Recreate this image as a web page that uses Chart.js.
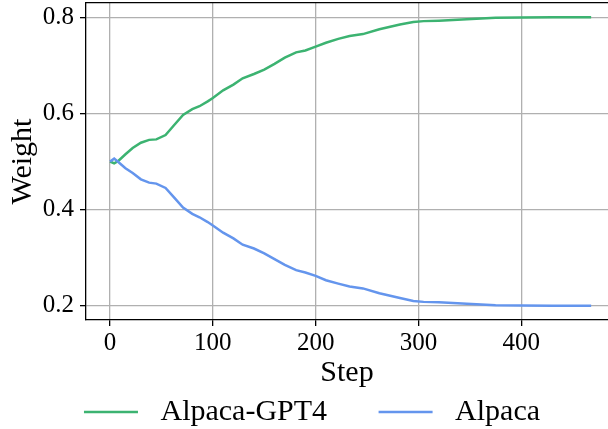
<!DOCTYPE html>
<html>
<head>
<meta charset="utf-8">
<script src="https://cdn.jsdelivr.net/npm/chart.js@4"></script>
<style>
  body { margin: 0; background: #fff; }
  #wrap { width: 608px; height: 429px; }
</style>
</head>
<body>
<div id="wrap"><canvas id="weight-chart" width="608" height="429"></canvas></div>
<script>
const steps = [0, 4, 8, 15, 22, 30, 38, 45, 54, 62, 71, 80, 87, 95, 100, 110, 120, 129, 140, 150,
               160, 170, 181, 190, 200, 210, 222, 233, 246, 262, 282, 295, 305, 320, 347, 375, 400, 430, 468]

const gpt4Weights = [0.500, 0.496, 0.501, 0.515, 0.528, 0.539, 0.545, 0.546, 0.555, 0.575, 0.597, 0.609, 0.615, 0.625, 0.632, 0.648, 0.660, 0.673, 0.682, 0.691,
                     0.703, 0.716, 0.727, 0.731, 0.739, 0.747, 0.755, 0.761, 0.765, 0.775, 0.785, 0.790, 0.792, 0.793, 0.796, 0.799, 0.7995, 0.800, 0.800]

const alpacaWeights = [0.500, 0.506, 0.499, 0.486, 0.476, 0.463, 0.456, 0.454, 0.445, 0.426, 0.404, 0.391, 0.384, 0.374, 0.367, 0.352, 0.340, 0.327, 0.319, 0.309,
                       0.297, 0.285, 0.274, 0.269, 0.262, 0.253, 0.246, 0.240, 0.236, 0.226, 0.216, 0.210, 0.208, 0.207, 0.204, 0.201, 0.2005, 0.200, 0.200]

const seriesNames = ['Alpaca-GPT4', 'Alpaca']
const xTicks = [0, 100, 200, 300, 400]
const yTicks = [0.2, 0.4, 0.6, 0.8]

const serif = "'Liberation Serif', 'Times New Roman', serif"

function toPoints(values) {
    return steps.map((s, i) => ({ x: s, y: values[i] }))
}

// no extra room for the edge tick labels, the plot box is fixed
function noEdgePadding(scale) {
    scale.paddingTop = 0
    scale.paddingBottom = 0
    scale.paddingLeft = 0
    scale.paddingRight = 0
}

const canvas = document.querySelector('#weight-chart')

new Chart(canvas.getContext('2d'), {
    type: 'line',
    data: {
        datasets: [
            {
                label: seriesNames[0],
                data: toPoints(gpt4Weights),
                borderColor: '#3cb371',
                backgroundColor: '#3cb371',
                borderWidth: 2.5,
                pointRadius: 0,
                tension: 0,
                order: 1
            },
            {
                label: seriesNames[1],
                data: toPoints(alpacaWeights),
                borderColor: '#6495ed',
                backgroundColor: '#6495ed',
                borderWidth: 2.5,
                pointRadius: 0,
                tension: 0,
                order: 0
            }
        ]
    },
    options: {
        responsive: false,
        animation: false,
        layout: { padding: { left: 16, right: 0, top: 0, bottom: -8 } },
        plugins: {
            tooltip: { enabled: false },
            legend: {
                position: 'bottom',
                labels: {
                    color: '#000',
                    font: { family: serif, size: 30 },
                    usePointStyle: true,
                    pointStyle: 'line',
                    pointStyleWidth: 54,
                    padding: 14,
                    sort: (a, b) => a.datasetIndex - b.datasetIndex,
                    // a little extra room around the labels, like the matplotlib legend
                    generateLabels: chart => {
                        const items = Chart.defaults.plugins.legend.labels.generateLabels(chart)
                        items.forEach(item => {
                            item.text = ' ' + item.text + (item.datasetIndex === 0 ? '     ' : '')
                        })
                        return items
                    }
                }
            }
        },
        scales: {
            x: {
                type: 'linear',
                min: -23.4,
                max: 484.4,
                afterBuildTicks: scale => { scale.ticks = xTicks.map(v => ({ value: v })) },
                afterFit: scale => { scale.height = 63; noEdgePadding(scale) },
                ticks: {
                    color: '#000',
                    font: { family: serif, size: 25 },
                    padding: 2,
                    maxRotation: 0
                },
                grid: { color: '#b0b0b0', lineWidth: 1.3, tickColor: '#000', tickLength: 6, tickWidth: 1.3 },
                border: { color: '#000', width: 1.3 },
                title: {
                    display: true,
                    text: 'Step',
                    color: '#000',
                    font: { family: serif, size: 30, lineHeight: 1 },
                    padding: { top: 0, bottom: -5 }
                }
            },
            xTop: {
                type: 'linear',
                position: 'top',
                ticks: { display: false },
                grid: { drawOnChartArea: false, drawTicks: false },
                border: { color: '#000', width: 1.3 },
                afterFit: scale => { scale.height = 3; noEdgePadding(scale) }
            },
            y: {
                type: 'linear',
                min: 0.1703,
                max: 0.8297,
                afterBuildTicks: scale => { scale.ticks = yTicks.map(v => ({ value: v })) },
                afterFit: scale => { scale.width = 70; noEdgePadding(scale) },
                ticks: {
                    color: '#000',
                    font: { family: serif, size: 25 },
                    padding: 6,
                    callback: v => v.toFixed(1)
                },
                grid: { color: '#b0b0b0', lineWidth: 1.3, tickColor: '#000', tickLength: 6, tickWidth: 1.3 },
                border: { color: '#000', width: 1.3 },
                title: {
                    display: true,
                    text: 'Weight',
                    color: '#000',
                    font: { family: serif, size: 30, lineHeight: 1 },
                    padding: { top: -8, bottom: 0 }
                }
            }
        }
    }
});
</script>
</body>
</html>
